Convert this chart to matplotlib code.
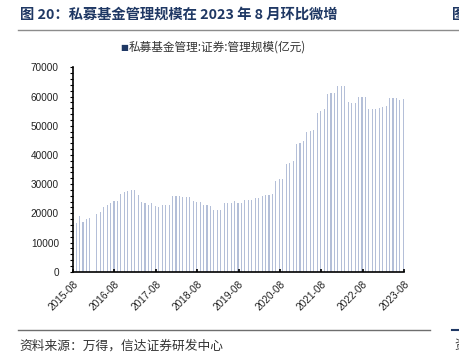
import numpy as np
import matplotlib
matplotlib.use("Agg")
import matplotlib.pyplot as plt

plt.rcParams["font.family"] = ["Noto Sans CJK SC", "DejaVu Sans"]

# ── Data: 私募基金管理:证券:管理规模(亿元), monthly 2015-09 .. 2023-08 ──
aum = [
    16800, 19200, 17000, 17900, 18500, np.nan, 19700, 20500, 22100, 22900,
    23700, 24200, 24200, 26600, 27300, 27700, 28000, 28000, 26400, 23900,
    23500, 23000, 23500, 22400, 22200, 22800, 22800, 22800, 26100, 26000,
    25900, 25500, 25500, 25500, 24100, 24000, 23900, 22900, 22800, 22600,
    21200, 21100, 21100, 23500, 23500, 23400, 24100, 23600, 23600, 24600,
    24500, 24600, 25200, 25400, 26100, 26200, 26200, 26600, 31100, 31700,
    31800, 36900, 37400, 37800, 43600, 44200, 44700, 48000, 48300, 48700,
    54500, 55200, 55900, 60900, 61200, 61200, 63600, 63600, 63600, 58000,
    57900, 57900, 59800, 59800, 59800, 55700, 55700, 55700, 56000, 56400,
    56600, 59400, 59400, 59400, 58900, 59000,
]
tick_labels = ["2015-08", "2016-08", "2017-08", "2018-08", "2019-08",
               "2020-08", "2021-08", "2022-08", "2023-08"]
y_ticks = [0, 10000, 20000, 30000, 40000, 50000, 60000, 70000]
legend_label = "私募基金管理:证券:管理规模(亿元)"
title = "图 20：私募基金管理规模在 2023 年 8 月环比微增"
source = "资料来源：万得，信达证券研发中心"

navy = "#1f3864"

fig = plt.figure(figsize=(4.6, 3.63), dpi=100)
ax = fig.add_axes([0.159, 0.2515, 0.719, 0.563])

x = np.arange(1, len(aum) + 1) - 0.15
ax.bar(x, aum, width=0.32, color="#b4bfd8", linewidth=0)

ax.set_xlim(0, 96)
ax.set_ylim(0, 70000)
ax.set_yticks(y_ticks)
ax.set_yticklabels([str(v) for v in y_ticks], family="Liberation Sans",
                   fontsize=7.2, color="#222222")
ax.set_yticks(np.arange(0, 70001, 2000), minor=True)
ax.tick_params(axis="y", which="both", direction="out", length=2.2,
               width=0.8, pad=8)
ax.set_xticks(np.arange(0, 97, 12))
ax.set_xticklabels(tick_labels, rotation=45, ha="right", va="top",
                   rotation_mode="anchor", family="Liberation Sans",
                   fontsize=7.3, color="#222222")
ax.tick_params(axis="x", direction="in", length=2.5, width=1.2, pad=5)

for s in ["top", "right"]:
    ax.spines[s].set_visible(False)
for s in ["left", "bottom"]:
    ax.spines[s].set_linewidth(1.2)

# legend (marker + label)
fig.text(0.262, 0.870, "■", color=navy, fontsize=6, va="center",
         family="DejaVu Sans")
fig.text(0.280, 0.870, legend_label, color="#333333", fontsize=8.4,
         va="center")

# header / footer decorations
fig.text(0.043, 0.960, title, color=navy, fontsize=10.3, fontweight="bold",
         va="center")
fig.text(0.982, 0.960, "图", color=navy, fontsize=10.3, fontweight="bold",
         va="center")
fig.add_artist(plt.Line2D([0.039, 1.0], [0.917, 0.917], color="#8c8c8c",
                          linewidth=1.0))
fig.add_artist(plt.Line2D([0.039, 0.935], [0.090, 0.090], color="#6e6e6e",
                          linewidth=1.0))
fig.add_artist(plt.Line2D([0.983, 1.0], [0.090, 0.090], color=navy,
                          linewidth=1.5))
fig.text(0.043, 0.047, source, color="#333333", fontsize=9.2,
         style="italic", va="center")
fig.text(0.987, 0.047, "资", color="#333333", fontsize=9.2, va="center")

fig.savefig("out.png", dpi=100)
